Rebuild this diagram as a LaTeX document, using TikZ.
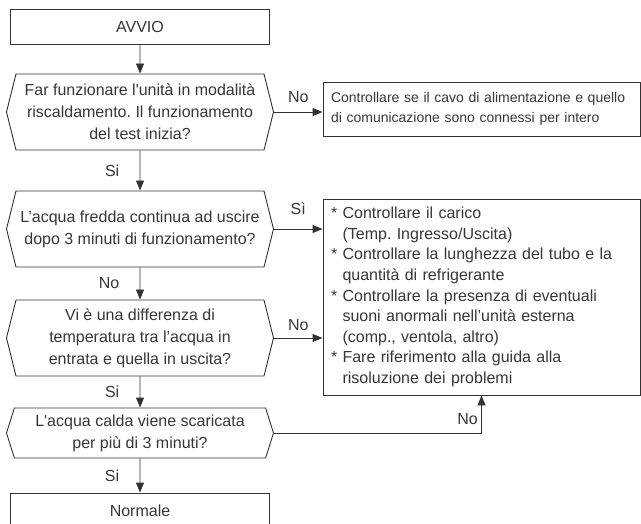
\documentclass[tikz,border=0pt]{standalone}
\usepackage{fontspec}
\setmainfont{Liberation Sans}
\usetikzlibrary{shapes.symbols, arrows.meta, positioning}
\definecolor{flowtext}{HTML}{363636}
\definecolor{flowline}{HTML}{333333}
\frenchspacing

\tikzset{
  stepbox/.style={rectangle, draw=flowline, line width=0.9pt, text=flowtext, font=\fontsize{16}{22}\selectfont, minimum width=259pt, minimum height=35pt, inner sep=0pt},
  question/.style={signal, signal to=west and east, signal pointer angle=152, draw=flowline, line width=0.9pt, text=flowtext, font=\fontsize{16}{22}\selectfont, align=center, minimum width=267pt, minimum height=76pt, inner sep=0pt},
  checkbox/.style={rectangle, draw=flowline, line width=0.9pt, text=flowtext, align=left, text width=301pt, inner xsep=8pt, inner ysep=0pt},
  flowarrow/.style={draw=flowline, line width=0.9pt, -{Triangle[length=10pt, width=8pt]}},
  answer/.style={text=flowtext, font=\fontsize{16}{19}\selectfont}
}

\begin{document}
\begin{tikzpicture}[x=1pt, y=-1pt]
    \useasboundingbox (0,0) rectangle (641,523);

    % Main column
    \node[stepbox] (start) at (140,26.5) {AVVIO};
    \node[question] (heat) at (140,112) {Far funzionare l\textquotesingle unità in modalità\\riscaldamento. Il funzionamento\\del test inizia?};
    \node[question] (cold) at (140,229) {L’acqua fredda continua ad uscire\\dopo 3 minuti di funzionamento?};
    \node[question] (delta) at (140,338) {Vi è una differenza di\\temperatura tra l’acqua in\\entrata e quella in uscita?};
    \node[question, minimum height=50pt, signal pointer angle=145] (hot) at (140,433) {L\textquotesingle acqua calda viene scaricata\\per più di 3 minuti?};
    \node[stepbox] (normal) at (140,510.5) {Normale};

    % Check boxes
    \node[checkbox, minimum height=54pt, font=\fontsize{14}{20}\selectfont] (cable) at (481.5,109) {Controllare se il cavo di alimentazione e quello\\di comunicazione sono connessi per intero};
    \node[checkbox, minimum height=196pt, font=\fontsize{16}{20.6}\selectfont] (checks) at (481.5,297) {* Controllare il carico\\\hphantom{* }(Temp. Ingresso/Uscita)\\{}* Controllare la lunghezza del tubo e la\\\hphantom{* }quantità di refrigerante\\{}* Controllare la presenza di eventuali\\\hphantom{* }suoni anormali nell’unità esterna\\\hphantom{* }(comp., ventola, altro)\\{}* Fare riferimento alla guida alla\\\hphantom{* }risoluzione dei problemi};

    % Arrows
    \draw[flowarrow] (start) -- (heat);
    \draw[flowarrow] (heat) -- node[answer, left=17pt] {Si} (cold);
    \draw[flowarrow] (cold) -- node[answer, left=17pt] {No} (delta);
    \draw[flowarrow] (delta) -- node[answer, left=17pt] {Si} (hot);
    \draw[flowarrow] (hot) -- node[answer, left=17pt] {Si} (normal);
    \draw[flowarrow] (heat.east) -- node[answer, above=6pt] {No} (heat.east -| cable.west);
    \draw[flowarrow] (cold.east) -- node[answer, above=11pt] {Sì} (cold.east -| checks.west);
    \draw[flowarrow] (delta.east) -- node[answer, above=4pt] {No} (delta.east -| checks.west);
    \draw[flowarrow] (hot.east) -| node[answer, pos=0.68, left] {No} (checks.south);
\end{tikzpicture}
\end{document}
